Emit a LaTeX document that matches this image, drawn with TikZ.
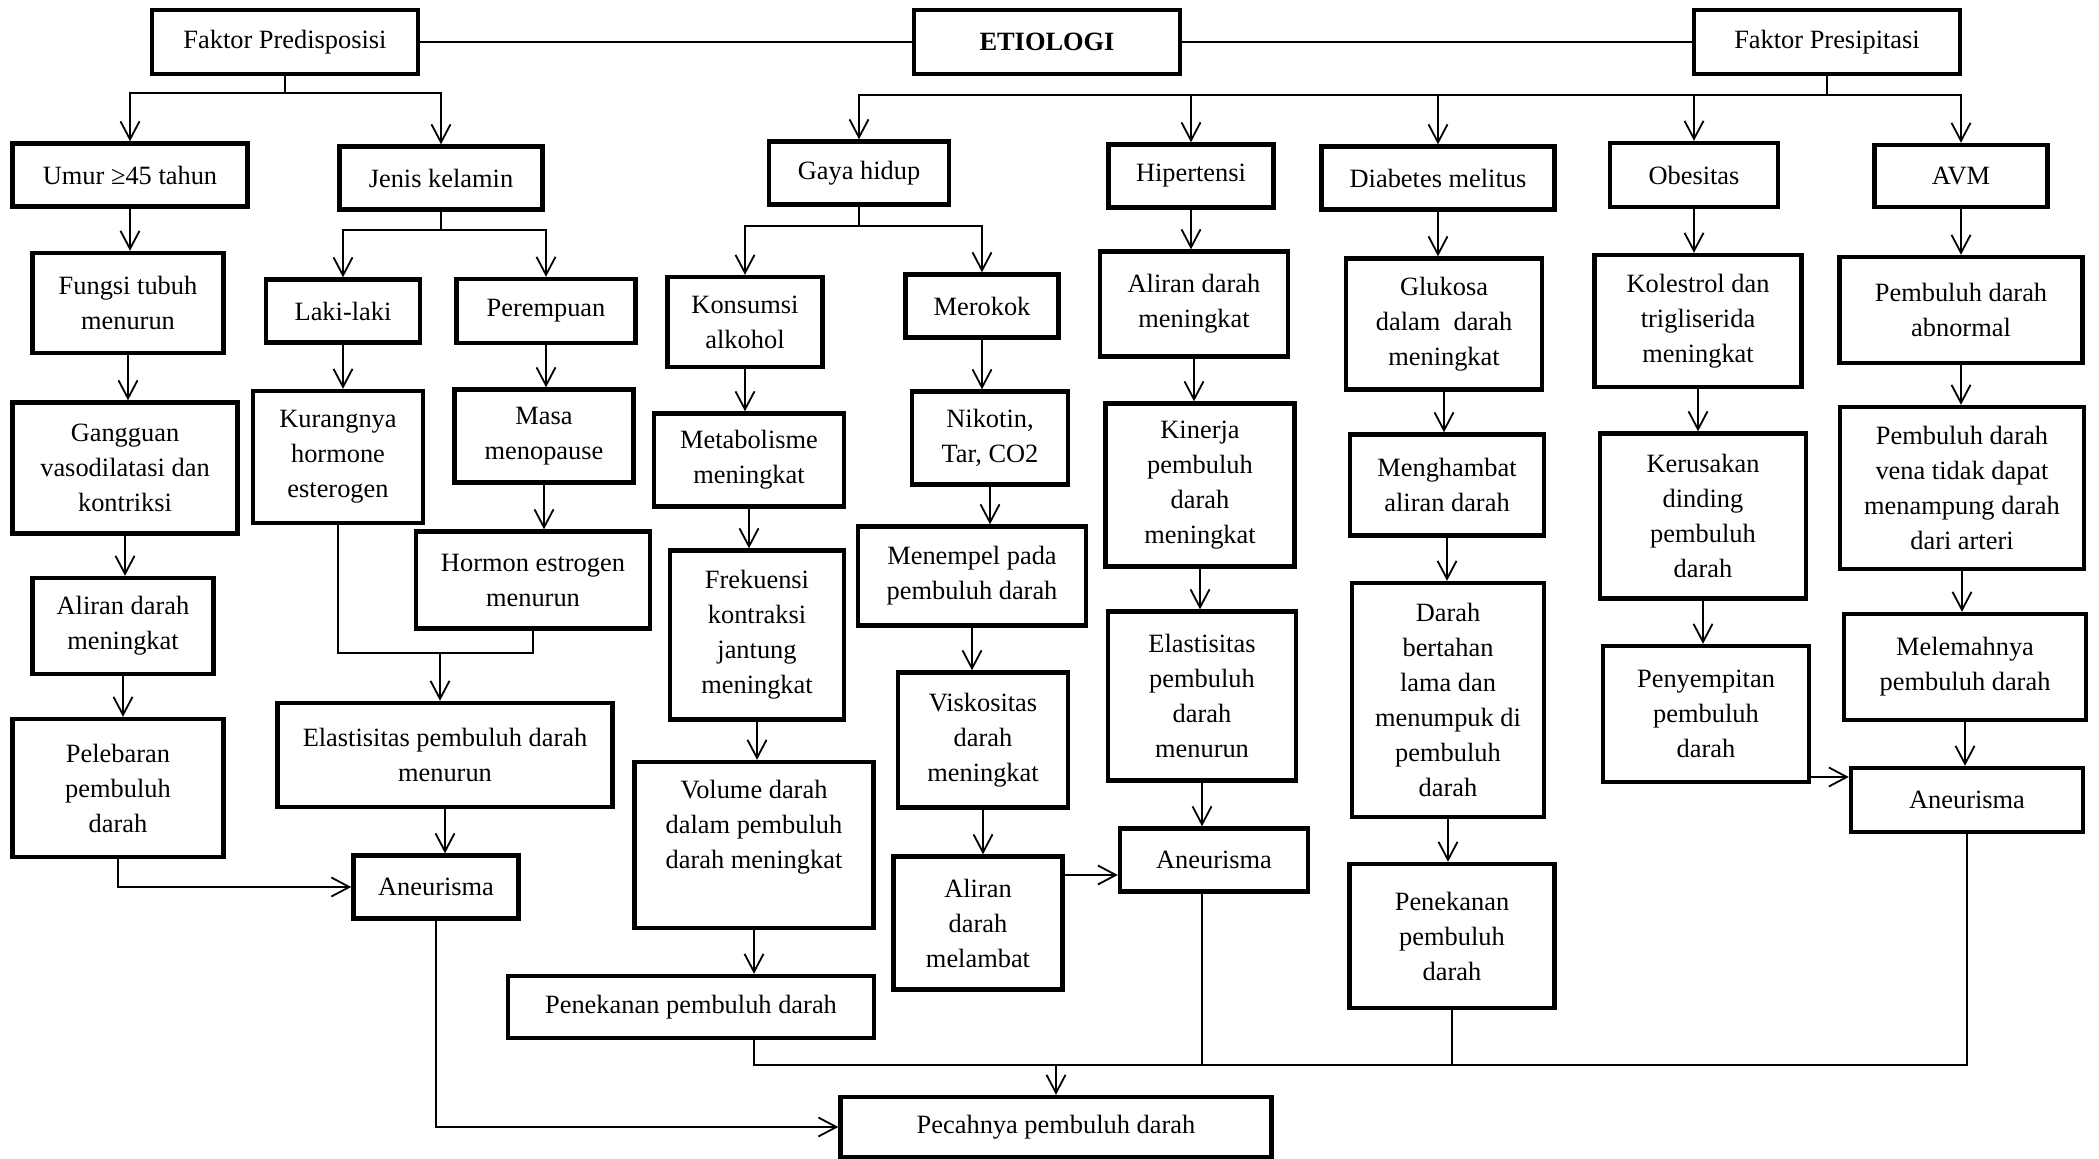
\documentclass[tikz,border=0pt]{standalone}
\usepackage{fontspec}
\setmainfont{Liberation Serif}
\usepackage{tikz}
\usetikzlibrary{arrows.meta}

\begin{document}
\begin{tikzpicture}[x=0.5pt,y=-0.5pt,
		kotak/.style={draw,line width=2.2pt,align=center,inner sep=2pt,font=\fontsize{13.2}{17.5}\selectfont},
		uk/.style 2 args={minimum width={#1*0.5pt},minimum height={#2*0.5pt}},
		garis/.style={line width=0.9pt},
		panah/.style={garis,-{Straight Barb[length=9pt,width=9.5pt]}}]
		\useasboundingbox (0,0) rectangle (2099,1159);
		%%faktor & etiologi
		\node[kotak,uk={266}{64}] (pred) at (285,42) {Faktor Predisposisi};
		\node[kotak,uk={266}{64}] (etio) at (1047,42) {\textbf{ETIOLOGI}};
		\node[kotak,uk={266}{64}] (presip) at (1827,42) {Faktor Presipitasi};
		\draw[garis] (pred) -- (etio);
		\draw[garis] (etio) -- (presip);
		%%predisposisi
		\node[kotak,uk={235}{63}] (umur) at (130,175) {Umur ≥45 tahun};
		\node[kotak,uk={203}{63}] (jenis) at (441,178) {Jenis kelamin};
		\node[kotak,uk={191}{100}] (fungsi) at (128,303) {Fungsi tubuh\\menurun};
		\node[kotak,uk={225}{131}] (gangguan) at (125,468) {Gangguan\\vasodilatasi dan\\kontriksi};
		\node[kotak,uk={181}{96}] (aliranL) at (123,626) {Aliran darah\\meningkat};
		\node[kotak,uk={211}{138}] (pelebaran) at (118,788) {Pelebaran\\pembuluh\\darah};
		\node[kotak,uk={154}{63}] (laki) at (343,311) {Laki-laki};
		\node[kotak,uk={179}{64}] (perempuan) at (546,311) {Perempuan};
		\node[kotak,uk={170}{132}] (kurang) at (338,457) {Kurangnya\\hormone\\esterogen};
		\node[kotak,uk={179}{93}] (masa) at (544,436) {Masa\\menopause};
		\node[kotak,uk={234}{97}] (hormon) at (533,580) {Hormon estrogen\\menurun};
		\node[kotak,uk={335}{104}] (elastisL) at (445,755) {Elastisitas pembuluh darah\\menurun};
		\node[kotak,uk={165}{63}] (aneurL) at (436,887) {Aneurisma};
		%%gaya hidup
		\node[kotak,uk={180}{63}] (gaya) at (859,173) {Gaya hidup};
		\node[kotak,uk={155}{90}] (alkohol) at (745,322) {Konsumsi\\alkohol};
		\node[kotak,uk={190}{93}] (metabolisme) at (749,460) {Metabolisme\\meningkat};
		\node[kotak,uk={174}{169}] (frekuensi) at (757,635) {Frekuensi\\kontraksi\\jantung\\meningkat};
		\node[kotak,uk={239}{166},text depth=21pt] (volume) at (754,845) {Volume darah\\dalam pembuluh\\darah meningkat};
		\node[kotak,uk={366}{62}] (penekananL) at (691,1007) {Penekanan pembuluh darah};
		\node[kotak,uk={153}{63}] (merokok) at (982,306) {Merokok};
		\node[kotak,uk={156}{93}] (nikotin) at (990,438) {Nikotin,\\Tar, CO2};
		\node[kotak,uk={228}{99}] (menempel) at (972,576) {Menempel pada\\pembuluh darah};
		\node[kotak,uk={170}{135}] (viskositas) at (983,740) {Viskositas\\darah\\meningkat};
		\node[kotak,uk={169}{133}] (melambat) at (978,923) {Aliran\\darah\\melambat};
		%%hipertensi
		\node[kotak,uk={165}{63}] (hipertensi) at (1191,176) {Hipertensi};
		\node[kotak,uk={188}{105}] (aliranH) at (1194,304) {Aliran darah\\meningkat};
		\node[kotak,uk={189}{163}] (kinerja) at (1200,485) {Kinerja\\pembuluh\\darah\\meningkat};
		\node[kotak,uk={188}{169}] (elastisH) at (1202,696) {Elastisitas\\pembuluh\\darah\\menurun};
		\node[kotak,uk={188}{63}] (aneurM) at (1214,860) {Aneurisma};
		%%diabetes
		\node[kotak,uk={233}{63}] (diabetes) at (1438,178) {Diabetes melitus};
		\node[kotak,uk={196}{131}] (glukosa) at (1444,324) {Glukosa\\dalam\ \ darah\\meningkat};
		\node[kotak,uk={194}{101}] (menghambat) at (1447,485) {Menghambat\\aliran darah};
		\node[kotak,uk={192}{234}] (menumpuk) at (1448,700) {Darah\\bertahan\\lama dan\\menumpuk di\\pembuluh\\darah};
		\node[kotak,uk={205}{144}] (penekananR) at (1452,936) {Penekanan\\pembuluh\\darah};
		%%obesitas
		\node[kotak,uk={168}{64}] (obesitas) at (1694,175) {Obesitas};
		\node[kotak,uk={207}{132}] (kolestrol) at (1698,321) {Kolestrol dan\\trigliserida\\meningkat};
		\node[kotak,uk={206}{165}] (kerusakan) at (1703,516) {Kerusakan\\dinding\\pembuluh\\darah};
		\node[kotak,uk={206}{136}] (penyempitan) at (1706,714) {Penyempitan\\pembuluh\\darah};
		%%avm
		\node[kotak,uk={173}{62}] (avm) at (1961,176) {AVM};
		\node[kotak,uk={243}{106}] (abnormal) at (1961,310) {Pembuluh darah\\abnormal};
		\node[kotak,uk={244}{162}] (vena) at (1962,488) {Pembuluh darah\\vena tidak dapat\\menampung darah\\dari arteri};
		\node[kotak,uk={242}{106}] (melemah) at (1965,667) {Melemahnya\\pembuluh darah};
		\node[kotak,uk={232}{64}] (aneurR) at (1967,800) {Aneurisma};
		%%pecah
		\node[kotak,uk={431}{60}] (pecah) at (1056,1127) {Pecahnya pembuluh darah};
		%%cabang
		\coordinate (cabA) at (285,93);
		\coordinate (cabB) at (441,230);
		\coordinate (cabC) at (1827,95);
		\coordinate (cabD) at (859,226);
		\coordinate (cabE) at (440,653);
		\coordinate (cabF) at (1056,1065);
		\draw[garis] (pred) -- (cabA);
		\draw[panah] (cabA) -| (umur);
		\draw[panah] (cabA) -| (jenis);
		\draw[garis] (jenis) -- (cabB);
		\draw[panah] (cabB) -| (laki);
		\draw[panah] (cabB) -| (perempuan);
		\draw[garis] (presip) -- (cabC);
		\draw[panah] (cabC) -| (gaya);
		\draw[panah] (cabC) -| (hipertensi);
		\draw[panah] (cabC) -| (diabetes);
		\draw[panah] (cabC) -| (obesitas);
		\draw[panah] (cabC) -| (avm);
		\draw[garis] (gaya) -- (cabD);
		\draw[panah] (cabD) -| (alkohol);
		\draw[panah] (cabD) -| (merokok);
		%%next!
		\draw[panah] (umur) -- (umur |- fungsi.north);
		\draw[panah] (fungsi) -- (fungsi |- gangguan.north);
		\draw[panah] (gangguan) -- (gangguan |- aliranL.north);
		\draw[panah] (aliranL) -- (aliranL |- pelebaran.north);
		\draw[panah] (pelebaran) |- (aneurL);
		\draw[panah] (laki) -- (laki |- kurang.north);
		\draw[panah] (perempuan) -- (perempuan |- masa.north);
		\draw[panah] (masa) -- (masa |- hormon.north);
		\draw[garis] (kurang) |- (cabE) -| (hormon);
		\draw[panah] (cabE) -- (cabE |- elastisL.north);
		\draw[panah] (elastisL) -- (elastisL |- aneurL.north);
		\draw[panah] (aneurL) |- (pecah);
		%%next!
		\draw[panah] (alkohol) -- (alkohol |- metabolisme.north);
		\draw[panah] (metabolisme) -- (metabolisme |- frekuensi.north);
		\draw[panah] (frekuensi) -- (frekuensi |- volume.north);
		\draw[panah] (volume) -- (volume |- penekananL.north);
		\draw[panah] (merokok) -- (merokok |- nikotin.north);
		\draw[panah] (nikotin) -- (nikotin |- menempel.north);
		\draw[panah] (menempel) -- (menempel |- viskositas.north);
		\draw[panah] (viskositas) -- (viskositas |- melambat.north);
		\draw[panah] (melambat.east |- 0,875) -- (aneurM.west |- 0,875);
		%%next!
		\draw[panah] (hipertensi) -- (hipertensi |- aliranH.north);
		\draw[panah] (aliranH) -- (aliranH |- kinerja.north);
		\draw[panah] (kinerja) -- (kinerja |- elastisH.north);
		\draw[panah] (elastisH) -- (elastisH |- aneurM.north);
		\draw[panah] (diabetes) -- (diabetes |- glukosa.north);
		\draw[panah] (glukosa) -- (glukosa |- menghambat.north);
		\draw[panah] (menghambat) -- (menghambat |- menumpuk.north);
		\draw[panah] (menumpuk) -- (menumpuk |- penekananR.north);
		%%next!
		\draw[panah] (obesitas) -- (obesitas |- kolestrol.north);
		\draw[panah] (kolestrol) -- (kolestrol |- kerusakan.north);
		\draw[panah] (kerusakan) -- (kerusakan |- penyempitan.north);
		\draw[panah] (penyempitan.east |- 0,777) -- (aneurR.west |- 0,777);
		\draw[panah] (avm) -- (avm |- abnormal.north);
		\draw[panah] (abnormal) -- (abnormal |- vena.north);
		\draw[panah] (vena) -- (vena |- melemah.north);
		\draw[panah] (melemah) -- (melemah |- aneurR.north);
		%%last!
		\draw[garis] (penekananL.south -| volume) |- (cabF) -| (aneurR);
		\draw[garis] (aneurM.south -| elastisH) -- (elastisH |- cabF);
		\draw[garis] (penekananR) -- (penekananR |- cabF);
		\draw[panah] (cabF) -- (pecah);
	\end{tikzpicture}
\end{document}
